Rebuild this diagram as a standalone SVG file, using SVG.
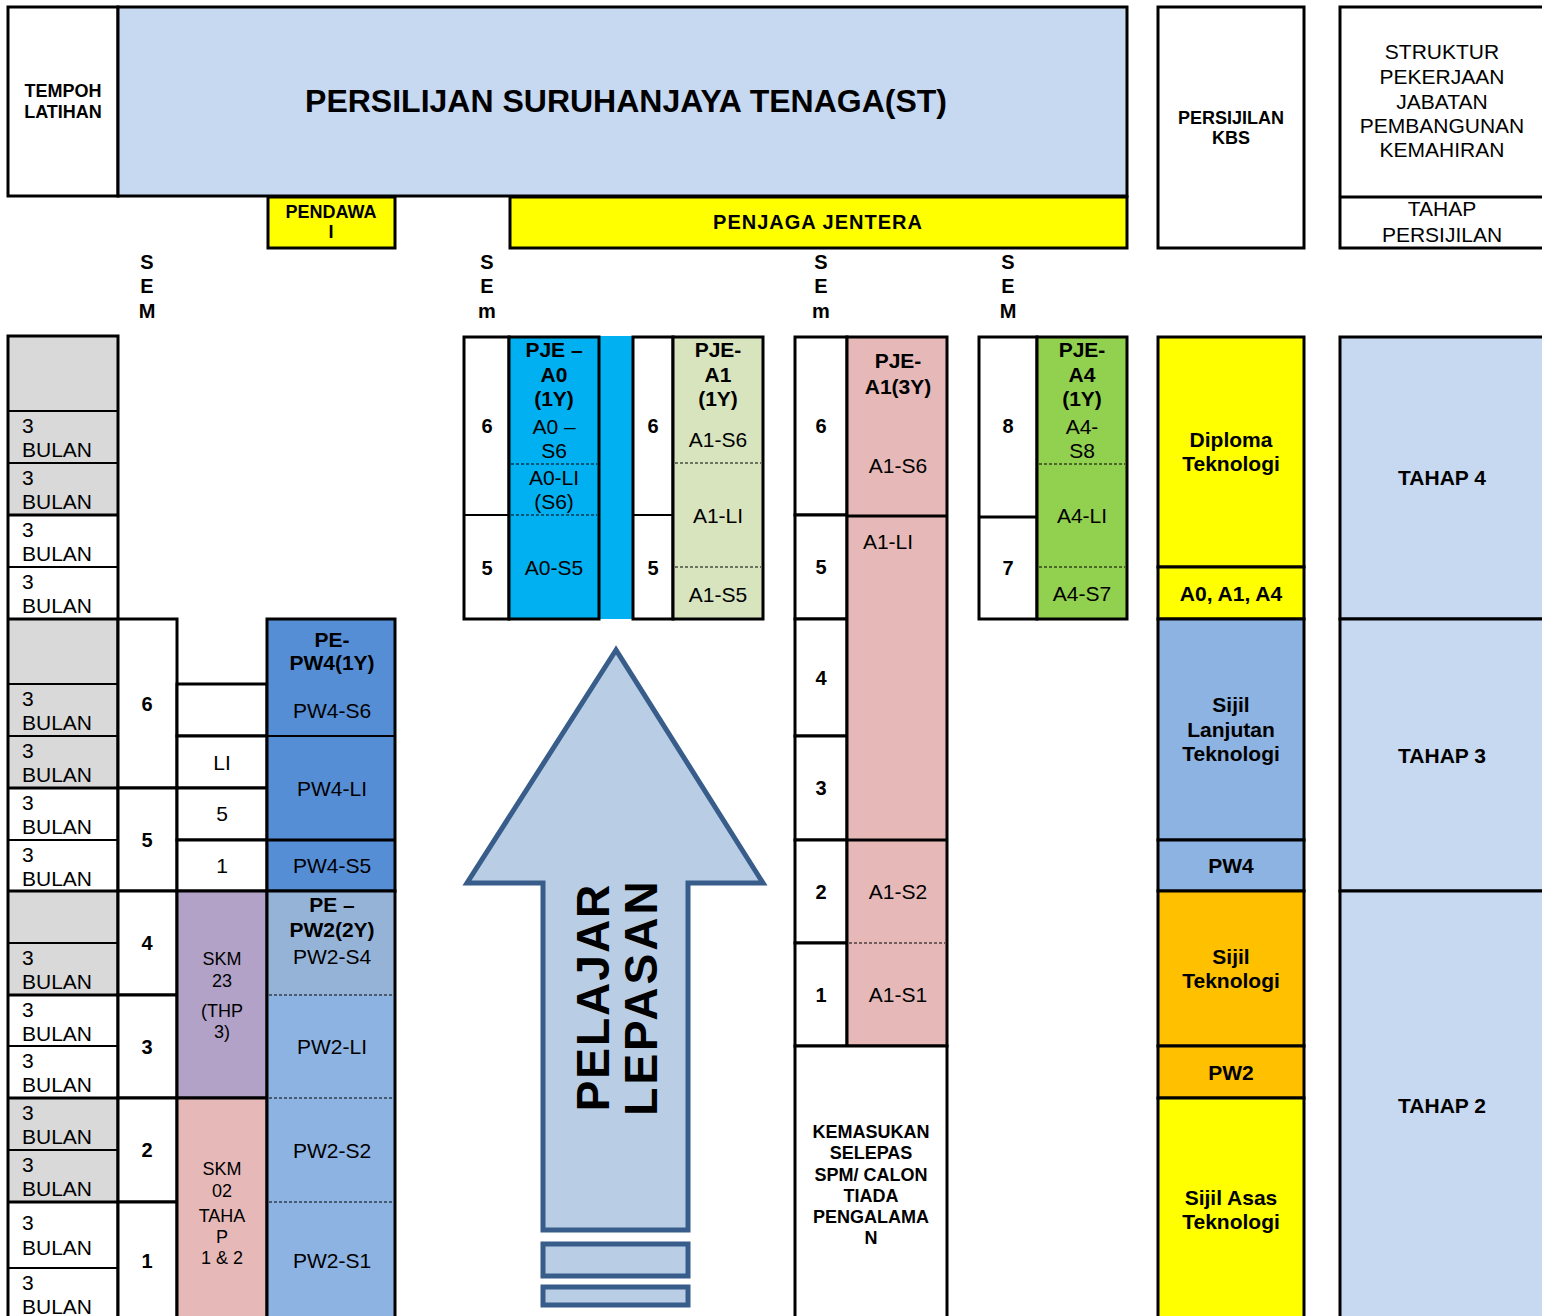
<svg xmlns="http://www.w3.org/2000/svg" width="1542" height="1316" viewBox="0 0 1542 1316">
<style>
.t{font-family:"Liberation Sans",Arial,Helvetica,sans-serif;text-anchor:middle;fill:#000}
.b{font-weight:bold}
.s18{font-size:18px}
.s20{font-size:20px}
.s21{font-size:21px}
.l{text-anchor:start}
.bx{stroke:#000;stroke-width:3}
.th{stroke:#000;stroke-width:2}
.ds{stroke:#000;stroke-width:1;stroke-dasharray:3 2}
.gr{fill:#d9d9d9}
.wh{fill:#ffffff}
.ye{fill:#ffff00}
</style>
<rect x="0" y="0" width="1542" height="1316" fill="#ffffff"/>

<!-- Header -->
<g id="tempoh-latihan">
<rect x="8" y="7" width="110" height="189" class="wh bx"/>
<text class="t b s18" x="63" y="97">TEMPOH</text>
<text class="t b s18" x="63" y="118">LATIHAN</text>
</g>
<g id="persijilan-st">
<rect x="118" y="7" width="1009" height="189" fill="#c6d9f1" class="bx"/>
<text class="t b" font-size="32" x="626" y="112">PERSILIJAN SURUHANJAYA TENAGA(ST)</text>
</g>
<g id="pendawai">
<rect x="268" y="197" width="127" height="51" class="ye bx"/>
<text class="t b s18" x="331" y="218">PENDAWA</text>
<text class="t b s18" x="331" y="238">I</text>
</g>
<g id="penjaga-jentera">
<rect x="510" y="197" width="617" height="51" class="ye bx"/>
<text class="t b s20" x="818" y="229" letter-spacing="1">PENJAGA JENTERA</text>
</g>
<g id="persijilan-kbs">
<rect x="1158" y="7" width="146" height="241" class="wh bx"/>
<text class="t b s18" x="1231" y="124">PERSIJILAN</text>
<text class="t b s18" x="1231" y="144">KBS</text>
</g>
<g id="struktur">
<rect x="1340" y="7" width="210" height="241" class="wh bx"/>
<line x1="1340" y1="197" x2="1542" y2="197" class="bx"/>
<text class="t s21" x="1442" y="59">STRUKTUR</text>
<text class="t s21" x="1442" y="84">PEKERJAAN</text>
<text class="t s21" x="1442" y="109">JABATAN</text>
<text class="t s21" x="1442" y="133">PEMBANGUNAN</text>
<text class="t s21" x="1442" y="157">KEMAHIRAN</text>
<text class="t s21" x="1442" y="216">TAHAP</text>
<text class="t s21" x="1442" y="242">PERSIJILAN</text>
</g>

<!-- SEM labels -->
<g id="sem-labels">
<text class="t b s20" x="147" y="269">S</text><text class="t b s20" x="147" y="293">E</text><text class="t b s20" x="147" y="318">M</text>
<text class="t b s20" x="487" y="269">S</text><text class="t b s20" x="487" y="293">E</text><text class="t b s20" x="487" y="318">m</text>
<text class="t b s20" x="821" y="269">S</text><text class="t b s20" x="821" y="293">E</text><text class="t b s20" x="821" y="318">m</text>
<text class="t b s20" x="1008" y="269">S</text><text class="t b s20" x="1008" y="293">E</text><text class="t b s20" x="1008" y="318">M</text>
</g>

<!-- Left tempoh column -->
<g id="tempoh-column">
<rect x="8" y="336" width="110" height="75" class="gr th"/>
<rect x="8" y="411" width="110" height="52" class="gr th"/>
<rect x="8" y="463" width="110" height="52" class="gr th"/>
<rect x="8" y="515" width="110" height="52" class="wh th"/>
<rect x="8" y="567" width="110" height="52" class="wh th"/>
<rect x="8" y="619" width="110" height="65" class="gr th"/>
<rect x="8" y="684" width="110" height="52" class="gr th"/>
<rect x="8" y="736" width="110" height="52" class="gr th"/>
<rect x="8" y="788" width="110" height="52" class="wh th"/>
<rect x="8" y="840" width="110" height="51" class="wh th"/>
<rect x="8" y="891" width="110" height="52" class="gr th"/>
<rect x="8" y="943" width="110" height="52" class="gr th"/>
<rect x="8" y="995" width="110" height="51" class="wh th"/>
<rect x="8" y="1046" width="110" height="52" class="wh th"/>
<rect x="8" y="1098" width="110" height="52" class="gr th"/>
<rect x="8" y="1150" width="110" height="52" class="gr th"/>
<rect x="8" y="1202" width="110" height="66" class="wh th"/>
<rect x="8" y="1268" width="110" height="60" class="wh th"/>
<line x1="8" y1="515" x2="118" y2="515" class="bx"/>
<line x1="8" y1="619" x2="118" y2="619" class="bx"/>
<line x1="8" y1="788" x2="118" y2="788" class="bx"/>
<line x1="8" y1="891" x2="118" y2="891" class="bx"/>
<line x1="8" y1="995" x2="118" y2="995" class="bx"/>
<line x1="8" y1="1098" x2="118" y2="1098" class="bx"/>
<line x1="8" y1="1202" x2="118" y2="1202" class="bx"/>
<rect x="8" y="336" width="110" height="992" fill="none" class="bx"/>
<g class="t s21">
<text class="l" x="22" y="433">3</text><text class="l" x="22" y="457">BULAN</text>
<text class="l" x="22" y="485">3</text><text class="l" x="22" y="509">BULAN</text>
<text class="l" x="22" y="537">3</text><text class="l" x="22" y="561">BULAN</text>
<text class="l" x="22" y="589">3</text><text class="l" x="22" y="613">BULAN</text>
<text class="l" x="22" y="706">3</text><text class="l" x="22" y="730">BULAN</text>
<text class="l" x="22" y="758">3</text><text class="l" x="22" y="782">BULAN</text>
<text class="l" x="22" y="810">3</text><text class="l" x="22" y="834">BULAN</text>
<text class="l" x="22" y="862">3</text><text class="l" x="22" y="886">BULAN</text>
<text class="l" x="22" y="965">3</text><text class="l" x="22" y="989">BULAN</text>
<text class="l" x="22" y="1017">3</text><text class="l" x="22" y="1041">BULAN</text>
<text class="l" x="22" y="1068">3</text><text class="l" x="22" y="1092">BULAN</text>
<text class="l" x="22" y="1120">3</text><text class="l" x="22" y="1144">BULAN</text>
<text class="l" x="22" y="1172">3</text><text class="l" x="22" y="1196">BULAN</text>
<text class="l" x="22" y="1230">3</text><text class="l" x="22" y="1255">BULAN</text>
<text class="l" x="22" y="1290">3</text><text class="l" x="22" y="1314">BULAN</text>
</g>
</g>

<!-- Pendawai semesters -->
<g id="pendawai-sem">
<rect x="118" y="619" width="59" height="169" class="wh bx"/>
<rect x="118" y="788" width="59" height="103" class="wh bx"/>
<rect x="118" y="891" width="59" height="104" class="wh bx"/>
<rect x="118" y="995" width="59" height="103" class="wh bx"/>
<rect x="118" y="1098" width="59" height="104" class="wh bx"/>
<rect x="118" y="1202" width="59" height="126" class="wh bx"/>
<text class="t b s20" x="147" y="711">6</text>
<text class="t b s20" x="147" y="847">5</text>
<text class="t b s20" x="147" y="950">4</text>
<text class="t b s20" x="147" y="1054">3</text>
<text class="t b s20" x="147" y="1157">2</text>
<text class="t b s20" x="147" y="1268">1</text>
</g>
<g id="pendawai-sub">
<rect x="177" y="684" width="90" height="52" class="wh bx"/>
<rect x="177" y="736" width="90" height="52" class="wh bx"/>
<rect x="177" y="788" width="90" height="52" class="wh bx"/>
<rect x="177" y="840" width="90" height="51" class="wh bx"/>
<text class="t s21" x="222" y="770">LI</text>
<text class="t s21" x="222" y="821">5</text>
<text class="t s21" x="222" y="873">1</text>
</g>
<g id="skm23">
<rect x="177" y="891" width="90" height="207" fill="#b2a2c7" class="bx"/>
<text class="t s18" x="222" y="965">SKM</text>
<text class="t s18" x="222" y="987">23</text>
<text class="t s18" x="222" y="1017">(THP</text>
<text class="t s18" x="222" y="1038">3)</text>
</g>
<g id="skm02">
<rect x="177" y="1098" width="90" height="230" fill="#e6b9b8" class="bx"/>
<text class="t s18" x="222" y="1175">SKM</text>
<text class="t s18" x="222" y="1197">02</text>
<text class="t s18" x="222" y="1222">TAHA</text>
<text class="t s18" x="222" y="1243">P</text>
<text class="t s18" x="222" y="1264">1 &amp; 2</text>
</g>
<g id="pe-pw4">
<rect x="267" y="619" width="128" height="272" fill="#558ed5" class="bx"/>
<line x1="267" y1="736" x2="395" y2="736" class="th"/>
<line x1="267" y1="840" x2="395" y2="840" class="bx"/>
<text class="t b s21" x="332" y="647">PE-</text>
<text class="t b s21" x="332" y="670">PW4(1Y)</text>
<text class="t s21" x="332" y="718">PW4-S6</text>
<text class="t s21" x="332" y="796">PW4-LI</text>
<text class="t s21" x="332" y="873">PW4-S5</text>
</g>
<g id="pe-pw2">
<rect x="267" y="891" width="128" height="437" fill="#8db3e2"/>
<rect x="267" y="891" width="128" height="104" fill="#95b3d7"/>
<line x1="269" y1="995" x2="393" y2="995" class="ds"/>
<line x1="269" y1="1098" x2="393" y2="1098" class="ds"/>
<line x1="269" y1="1202" x2="393" y2="1202" class="ds"/>
<rect x="267" y="891" width="128" height="437" fill="none" class="bx"/>
<text class="t b s21" x="332" y="912">PE –</text>
<text class="t b s21" x="332" y="937">PW2(2Y)</text>
<text class="t s21" x="332" y="964">PW2-S4</text>
<text class="t s21" x="332" y="1054">PW2-LI</text>
<text class="t s21" x="332" y="1158">PW2-S2</text>
<text class="t s21" x="332" y="1268">PW2-S1</text>
</g>

<!-- PJE A0 -->
<g id="pje-a0">
<rect x="599" y="336" width="33" height="283" fill="#00b0f0"/>
<rect x="464" y="337" width="45" height="282" class="wh bx"/>
<line x1="464" y1="515" x2="509" y2="515" class="th"/>
<text class="t b s20" x="487" y="433">6</text>
<text class="t b s20" x="487" y="575">5</text>
<rect x="509" y="337" width="90" height="282" fill="#00b0f0" class="bx"/>
<line x1="511" y1="464" x2="597" y2="464" class="ds"/>
<line x1="511" y1="515" x2="597" y2="515" class="ds"/>
<text class="t b s21" x="554" y="357">PJE –</text>
<text class="t b s21" x="554" y="382">A0</text>
<text class="t b s21" x="554" y="406">(1Y)</text>
<text class="t s21" x="554" y="434">A0 –</text>
<text class="t s21" x="554" y="458">S6</text>
<text class="t s21" x="554" y="485">A0-LI</text>
<text class="t s21" x="554" y="509">(S6)</text>
<text class="t s21" x="554" y="575">A0-S5</text>
</g>
<g id="pje-a1-1y">
<rect x="633" y="337" width="40" height="282" class="wh bx"/>
<line x1="633" y1="515" x2="673" y2="515" class="th"/>
<text class="t b s20" x="653" y="433">6</text>
<text class="t b s20" x="653" y="575">5</text>
<rect x="673" y="337" width="90" height="282" fill="#d7e4bd" class="bx"/>
<line x1="675" y1="463" x2="761" y2="463" class="ds"/>
<line x1="675" y1="567" x2="761" y2="567" class="ds"/>
<text class="t b s21" x="718" y="357">PJE-</text>
<text class="t b s21" x="718" y="382">A1</text>
<text class="t b s21" x="718" y="406">(1Y)</text>
<text class="t s21" x="718" y="447">A1-S6</text>
<text class="t s21" x="718" y="523">A1-LI</text>
<text class="t s21" x="718" y="602">A1-S5</text>
</g>

<!-- PJE A1 3Y -->
<g id="pje-a1-3y">
<rect x="795" y="337" width="52" height="178" class="wh bx"/>
<rect x="795" y="515" width="52" height="104" class="wh bx"/>
<rect x="795" y="619" width="52" height="117" class="wh bx"/>
<rect x="795" y="736" width="52" height="104" class="wh bx"/>
<rect x="795" y="840" width="52" height="103" class="wh bx"/>
<rect x="795" y="943" width="52" height="103" class="wh bx"/>
<text class="t b s20" x="821" y="433">6</text>
<text class="t b s20" x="821" y="574">5</text>
<text class="t b s20" x="821" y="685">4</text>
<text class="t b s20" x="821" y="795">3</text>
<text class="t b s20" x="821" y="899">2</text>
<text class="t b s20" x="821" y="1002">1</text>
<rect x="847" y="337" width="100" height="709" fill="#e6b9b8" class="bx"/>
<line x1="847" y1="516" x2="947" y2="516" class="bx"/>
<line x1="847" y1="840" x2="947" y2="840" class="bx"/>
<line x1="849" y1="943" x2="945" y2="943" class="ds"/>
<text class="t b s21" x="898" y="368">PJE-</text>
<text class="t b s21" x="898" y="394">A1(3Y)</text>
<text class="t s21" x="898" y="473">A1-S6</text>
<text class="t s21" x="888" y="549">A1-LI</text>
<text class="t s21" x="898" y="899">A1-S2</text>
<text class="t s21" x="898" y="1002">A1-S1</text>
</g>
<g id="kemasukan">
<rect x="795" y="1046" width="152" height="282" class="wh bx"/>
<text class="t b s18" x="871" y="1138">KEMASUKAN</text>
<text class="t b s18" x="871" y="1159">SELEPAS</text>
<text class="t b s18" x="871" y="1181">SPM/ CALON</text>
<text class="t b s18" x="871" y="1202">TIADA</text>
<text class="t b s18" x="871" y="1223">PENGALAMA</text>
<text class="t b s18" x="871" y="1244">N</text>
</g>

<!-- PJE A4 -->
<g id="pje-a4">
<rect x="979" y="337" width="58" height="282" class="wh bx"/>
<line x1="979" y1="517" x2="1037" y2="517" class="bx"/>
<text class="t b s20" x="1008" y="433">8</text>
<text class="t b s20" x="1008" y="575">7</text>
<rect x="1037" y="337" width="90" height="282" fill="#92d050" class="bx"/>
<line x1="1039" y1="464" x2="1125" y2="464" class="ds"/>
<line x1="1039" y1="567" x2="1125" y2="567" class="ds"/>
<text class="t b s21" x="1082" y="357">PJE-</text>
<text class="t b s21" x="1082" y="382">A4</text>
<text class="t b s21" x="1082" y="406">(1Y)</text>
<text class="t s21" x="1082" y="434">A4-</text>
<text class="t s21" x="1082" y="458">S8</text>
<text class="t s21" x="1082" y="523">A4-LI</text>
<text class="t s21" x="1082" y="601">A4-S7</text>
</g>

<!-- KBS column -->
<g id="kbs-column">
<rect x="1158" y="337" width="146" height="230" class="ye bx"/>
<rect x="1158" y="567" width="146" height="52" class="ye bx"/>
<rect x="1158" y="619" width="146" height="221" fill="#8db3e2" class="bx"/>
<rect x="1158" y="840" width="146" height="51" fill="#8db3e2" class="bx"/>
<rect x="1158" y="891" width="146" height="155" fill="#ffc000" class="bx"/>
<rect x="1158" y="1046" width="146" height="52" fill="#ffc000" class="bx"/>
<rect x="1158" y="1098" width="146" height="230" class="ye bx"/>
<text class="t b s21" x="1231" y="447">Diploma</text>
<text class="t b s21" x="1231" y="471">Teknologi</text>
<text class="t b s21" x="1231" y="601">A0, A1, A4</text>
<text class="t b s21" x="1231" y="712">Sijil</text>
<text class="t b s21" x="1231" y="737">Lanjutan</text>
<text class="t b s21" x="1231" y="761">Teknologi</text>
<text class="t b s21" x="1231" y="873">PW4</text>
<text class="t b s21" x="1231" y="964">Sijil</text>
<text class="t b s21" x="1231" y="988">Teknologi</text>
<text class="t b s21" x="1231" y="1080">PW2</text>
<text class="t b s21" x="1231" y="1205">Sijil Asas</text>
<text class="t b s21" x="1231" y="1229">Teknologi</text>
</g>

<!-- Tahap column -->
<g id="tahap-column">
<rect x="1340" y="337" width="210" height="282" fill="#c6d9f1" class="bx"/>
<rect x="1340" y="619" width="210" height="272" fill="#c6d9f1" class="bx"/>
<rect x="1340" y="891" width="210" height="437" fill="#c6d9f1" class="bx"/>
<text class="t b s21" x="1442" y="485">TAHAP 4</text>
<text class="t b s21" x="1442" y="763">TAHAP 3</text>
<text class="t b s21" x="1442" y="1113">TAHAP 2</text>
</g>

<!-- Arrow -->
<g id="arrow-pelajar-lepasan">
<polygon points="616,650 467,883 543,883 543,1230 688,1230 688,883 763,883" fill="#b9cde5" stroke="#385d8a" stroke-width="5"/>
<rect x="543" y="1244" width="145" height="32" fill="#b9cde5" stroke="#385d8a" stroke-width="5"/>
<rect x="543" y="1287" width="145" height="18" fill="#b9cde5" stroke="#385d8a" stroke-width="5"/>
<text class="t b" font-size="46" letter-spacing="2" transform="translate(609,997) rotate(-90)">PELAJAR</text>
<text class="t b" font-size="46" letter-spacing="3" transform="translate(657,997) rotate(-90)">LEPASAN</text>
</g>
<g id="connectors"/>
</svg>
